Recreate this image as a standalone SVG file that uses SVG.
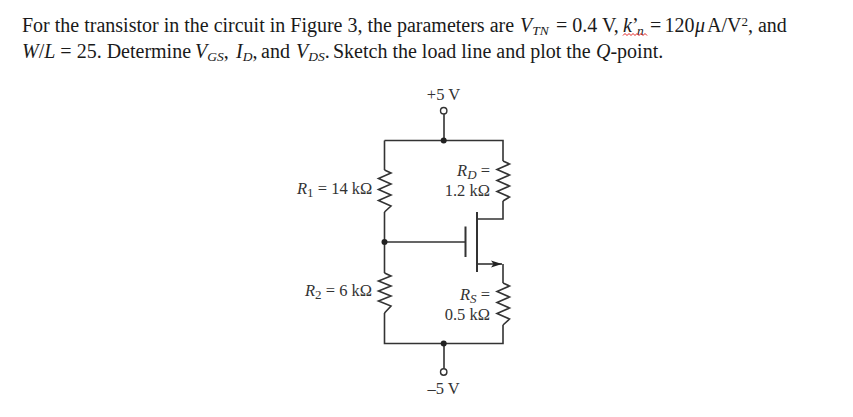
<svg xmlns="http://www.w3.org/2000/svg" width="853" height="417" viewBox="0 0 853 417">
<style>
text{font-family:"Liberation Serif","Times New Roman",serif;fill:#1a1a1a}
.q{font-size:20px}
.c{font-size:16.500px;fill:#333}
.i{font-style:italic}
.w{fill:none;stroke:#333;stroke-width:1.6}
.r{fill:none;stroke:#333;stroke-width:1.6;stroke-linejoin:miter}
.t{fill:none;stroke:#333;stroke-width:2}
.d{fill:#222}
.o{fill:#fff;stroke:#333;stroke-width:1.4}
</style>
<defs>
<marker id="arr" markerWidth="12" markerHeight="8" refX="11" refY="4" orient="auto" markerUnits="userSpaceOnUse"><path d="M0 0.5L11 4L0 7.5L2.500 4Z" fill="#222"/></marker>
</defs>
<g id="problem">
<text class="q" x="22" y="32">For the transistor in the circuit in Figure 3, the parameters are <tspan class="i" x="520">V</tspan><tspan class="i" font-size="13.500" dy="3">TN</tspan><tspan dy="-3" x="556">= 0.4 V, </tspan><tspan class="i" x="623">k</tspan>’<tspan class="i" font-size="13.500" dy="3" x="637">n</tspan><tspan dy="-3" x="650">=</tspan><tspan x="664.500">120</tspan><tspan class="i" x="695">μ</tspan><tspan x="707">A/V</tspan><tspan font-size="13" dy="-6">2</tspan><tspan dy="6">, and</tspan></text>
<text class="q" x="22" y="58"><tspan class="i">W</tspan>/<tspan class="i">L</tspan> = 25. Determine<tspan class="i" x="195">V</tspan><tspan class="i" font-size="13.500" dy="3">GS</tspan><tspan dy="-3">,</tspan><tspan class="i" x="236">I</tspan><tspan class="i" font-size="13.500" dy="3">D</tspan><tspan dy="-3">,</tspan><tspan x="261">and</tspan><tspan class="i" x="296">V</tspan><tspan class="i" font-size="13.500" dy="3">DS</tspan><tspan dy="-3">.</tspan><tspan x="333">Sketch the load line and plot the </tspan><tspan class="i" x="596">Q</tspan>-point.</text>
<path d="M623 35.500l2-2 2 2 2-2 2 2 2-2 2 2 2-2 2 2 2-2 2 2 2-2 2 2" fill="none" stroke="#e02020" stroke-width="1"/>
</g>
<g id="connectors">
<path class="w" d="M444 114V140M384.500 140.500H503V161M384.500 140.500V170M384.500 212V273M384.500 313V343.500H503V325M503 283V264M503 201V219H477M384.500 242H465M444 343.500V368.500"/>
<path class="w" d="M477 264H502" marker-end="url(#arr)"/>
</g>
<g id="top-terminal"><circle class="o" cx="443.700" cy="110.700" r="3.200"/><circle class="d" cx="443.700" cy="140.500" r="3"/><text class="c" x="443.500" y="100" text-anchor="middle">+5 V</text></g>
<g id="bottom-terminal"><circle class="o" cx="443.700" cy="372" r="3.200"/><circle class="d" cx="443.700" cy="343.500" r="3"/><text class="c" x="443.500" y="394" text-anchor="middle">–5 V</text></g>
<g id="gate-node"><circle class="d" cx="384.500" cy="242" r="3"/></g>
<g id="R1"><path class="r" d="M384.500 170L391 173L378.500 178.500L391 184L378.500 189.500L391 195L378.500 200.500L391 206L384.500 212"/><text class="c" x="297" y="194"><tspan class="i">R</tspan><tspan font-size="13" dy="3">1</tspan><tspan dy="-3"> = 14 kΩ</tspan></text></g>
<g id="R2"><path class="r" d="M384.500 273L391 276L378.500 281L391 286L378.500 291L391 296L378.500 301L391 306L384.500 313"/><text class="c" x="305" y="296"><tspan class="i">R</tspan><tspan font-size="13" dy="3">2</tspan><tspan dy="-3"> = 6 kΩ</tspan></text></g>
<g id="RD"><path class="r" d="M503 161L509.500 164L497 169.500L509.500 175L497 180.500L509.500 186L497 191.500L509.500 197L503 201"/><text class="c" x="490" y="176" text-anchor="end"><tspan class="i">R</tspan><tspan class="i" font-size="13" dy="3">D</tspan><tspan dy="-3"> =</tspan></text><text class="c" x="490" y="196" text-anchor="end">1.2 kΩ</text></g>
<g id="RS"><path class="r" d="M503 283L509.500 286L497 291.500L509.500 297L497 302.500L509.500 308L497 313.500L509.500 319L503 325"/><text class="c" x="490" y="300" text-anchor="end"><tspan class="i">R</tspan><tspan class="i" font-size="13" dy="3">S</tspan><tspan dy="-3"> =</tspan></text><text class="c" x="490" y="320" text-anchor="end">0.5 kΩ</text></g>
<g id="transistor"><path class="t" d="M465.500 226.500V257M477 212V272"/></g>
</svg>
